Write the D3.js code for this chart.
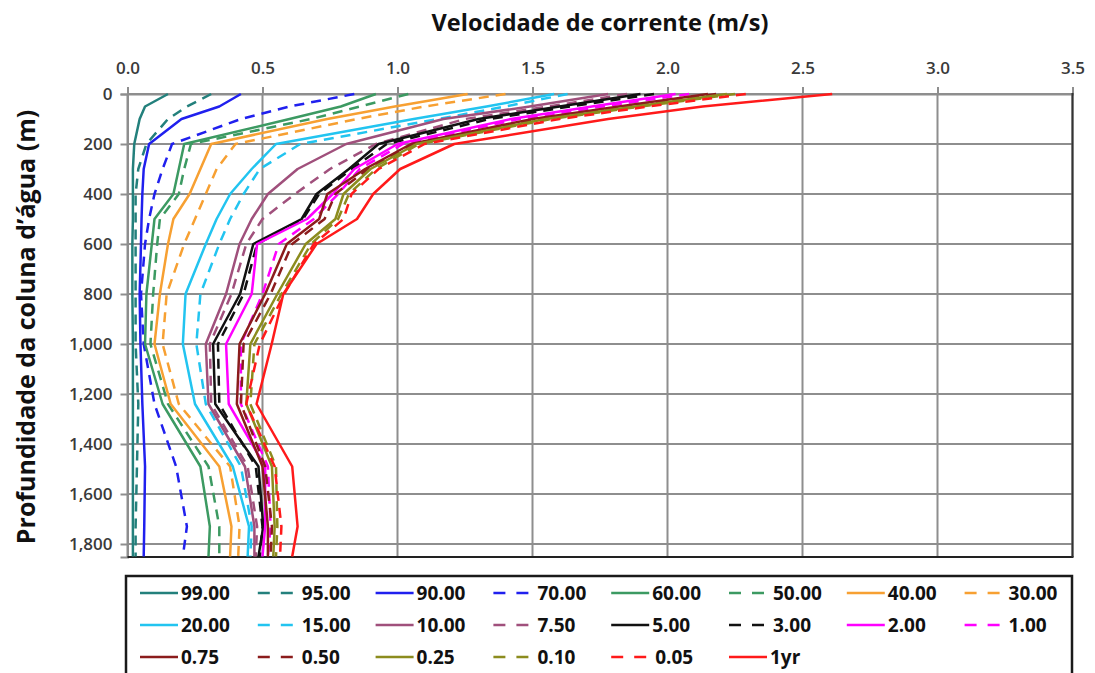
<!DOCTYPE html>
<html><head><meta charset="utf-8">
<script src="https://cdn.jsdelivr.net/npm/d3@7"></script>
<style>body{margin:0;background:#fff} svg{display:block}</style>
</head><body><svg id="c" width="1095" height="673"></svg>
<script>
// ---- data ----
const depths = [0, 50, 100, 200, 300, 400, 500, 600, 800, 1000, 1240, 1490, 1730, 1850];
const xTicks = [0, 0.5, 1.0, 1.5, 2.0, 2.5, 3.0, 3.5];
const yTicks = [0, 200, 400, 600, 800, 1000, 1200, 1400, 1600, 1800];
const seriesNames = ["99.00","95.00","90.00","70.00","60.00","50.00","40.00","30.00",
                     "20.00","15.00","10.00","7.50","5.00","3.00","2.00","1.00",
                     "0.75","0.50","0.25","0.10","0.05","1yr"];
const p99  = [0.15, 0.065, 0.045, 0.025, 0.02, 0.02, 0.02, 0.018, 0.018, 0.02, 0.02, 0.02, 0.02, 0.02];
const p95  = [0.31, 0.22, 0.15, 0.07, 0.04, 0.03, 0.03, 0.03, 0.03, 0.03, 0.04, 0.035, 0.03, 0.03];
const p90  = [0.42, 0.34, 0.20, 0.08, 0.06, 0.055, 0.052, 0.05, 0.045, 0.048, 0.055, 0.065, 0.062, 0.06];
const p70  = [0.84, 0.60, 0.42, 0.165, 0.13, 0.10, 0.08, 0.065, 0.05, 0.06, 0.10, 0.18, 0.22, 0.205];
const p60  = [0.92, 0.79, 0.60, 0.21, 0.19, 0.17, 0.10, 0.09, 0.07, 0.065, 0.13, 0.27, 0.305, 0.30];
const p50  = [1.04, 0.86, 0.68, 0.235, 0.21, 0.19, 0.12, 0.11, 0.095, 0.085, 0.15, 0.30, 0.34, 0.34];
const p40  = [1.26, 0.99, 0.74, 0.31, 0.27, 0.23, 0.17, 0.15, 0.12, 0.10, 0.16, 0.34, 0.385, 0.38];
const p30  = [1.40, 1.10, 0.85, 0.40, 0.33, 0.29, 0.25, 0.21, 0.145, 0.13, 0.19, 0.38, 0.415, 0.41];
const p20  = [1.58, 1.33, 1.06, 0.55, 0.46, 0.38, 0.33, 0.29, 0.215, 0.205, 0.25, 0.39, 0.45, 0.445];
const p15  = [1.63, 1.40, 1.15, 0.64, 0.49, 0.43, 0.38, 0.34, 0.27, 0.255, 0.29, 0.42, 0.46, 0.455];
const p10  = [1.78, 1.49, 1.17, 0.81, 0.63, 0.52, 0.46, 0.415, 0.365, 0.29, 0.30, 0.435, 0.47, 0.47];
const p7_5 = [1.85, 1.56, 1.25, 0.92, 0.75, 0.62, 0.50, 0.44, 0.385, 0.305, 0.31, 0.445, 0.48, 0.475];
const p5   = [1.90, 1.60, 1.30, 0.93, 0.82, 0.70, 0.645, 0.466, 0.417, 0.317, 0.325, 0.485, 0.503, 0.485];
const p3   = [1.95, 1.64, 1.34, 0.96, 0.83, 0.71, 0.65, 0.48, 0.43, 0.335, 0.34, 0.475, 0.50, 0.49];
const p2   = [2.03, 1.72, 1.42, 1.00, 0.84, 0.76, 0.665, 0.48, 0.46, 0.365, 0.375, 0.51, 0.51, 0.50];
const p1   = [2.08, 1.76, 1.45, 1.02, 0.86, 0.78, 0.69, 0.56, 0.50, 0.42, 0.42, 0.52, 0.53, 0.52];
const p0_75= [2.15, 1.82, 1.50, 1.05, 0.88, 0.74, 0.71, 0.59, 0.51, 0.415, 0.405, 0.50, 0.52, 0.52];
const p0_50= [2.18, 1.85, 1.52, 1.06, 0.89, 0.77, 0.73, 0.61, 0.53, 0.43, 0.42, 0.51, 0.535, 0.53];
const p0_25= [2.22, 1.88, 1.55, 1.07, 0.90, 0.80, 0.77, 0.66, 0.555, 0.455, 0.44, 0.535, 0.545, 0.54];
const p0_10= [2.25, 1.90, 1.57, 1.08, 0.92, 0.82, 0.78, 0.68, 0.57, 0.47, 0.455, 0.55, 0.555, 0.55];
const p0_05= [2.29, 1.93, 1.60, 1.10, 0.93, 0.83, 0.80, 0.69, 0.58, 0.49, 0.44, 0.545, 0.57, 0.565];
const p1yr = [2.61, 2.13, 1.78, 1.21, 1.01, 0.91, 0.85, 0.70, 0.577, 0.534, 0.478, 0.61, 0.63, 0.61];

// ---- styles ----
const seriesColors = ["#23807c","#23807c","#2020ee","#2020ee","#3c9a62","#3c9a62","#f7a032","#f7a032",
                      "#22c4f0","#22c4f0","#a0507c","#a0507c","#111111","#111111","#ff00ff","#ff00ff",
                      "#8b1c1c","#8b1c1c","#8c8c1e","#8c8c1e","#ff1a1a","#ff1a1a"];
const seriesDashed = [false,true,false,true,false,true,false,true,
                      false,true,false,true,false,true,false,true,
                      false,true,false,true,true,false];

const values = [p99,p95,p90,p70,p60,p50,p40,p30,p20,p15,p10,p7_5,p5,p3,p2,p1,p0_75,p0_50,p0_25,p0_10,p0_05,p1yr];
const series = seriesNames.map((name, i) => ({
  name, color: seriesColors[i], dashed: seriesDashed[i],
  points: depths.map((d, j) => ({depth: d, v: values[i][j]}))
}));

const svg = d3.select("#c");
const L = 127.5, R = 1072.5, T = 94, B = 557;
const x = d3.scaleLinear().domain([0, 3.5]).range([L, R]);
const y = d3.scaleLinear().domain([0, 1852]).range([T, B]);
const font = "'Open Sans', sans-serif";

// grid
const grid = svg.append("g");
grid.selectAll(".vg").data(xTicks).join("line")
  .attr("x1", d => x(d)).attr("x2", d => x(d)).attr("y1", T).attr("y2", B)
  .attr("stroke", "#8e8e8e").attr("stroke-width", 2);
grid.selectAll(".hg").data(yTicks).join("line")
  .attr("x1", L).attr("x2", R).attr("y1", d => y(d)).attr("y2", d => y(d))
  .attr("stroke", "#8e8e8e").attr("stroke-width", 2);

// axes
const xAxis = svg.append("g").attr("transform", `translate(0,${T})`)
  .call(d3.axisTop(x).tickValues(xTicks).tickFormat(d3.format(".1f")).tickSize(7).tickPadding(13));
const yAxis = svg.append("g").attr("transform", `translate(${L},0)`)
  .call(d3.axisLeft(y).tickValues(yTicks).tickFormat(d3.format(",")).tickSize(7).tickPadding(8));
[xAxis, yAxis].forEach(a => {
  a.select(".domain").attr("stroke", "#8e8e8e").attr("stroke-width", 2);
  a.selectAll(".tick line").attr("stroke", "#8e8e8e").attr("stroke-width", 2);
  a.selectAll(".tick text").attr("fill", "#3a3a3a").style("font-family", font)
    .style("font-size", "17px").style("font-weight", "600");
});

// right & bottom border
svg.append("line").attr("x1", L).attr("x2", R + 1).attr("y1", B).attr("y2", B).attr("stroke", "#222").attr("stroke-width", 2);
svg.append("line").attr("x1", R).attr("x2", R).attr("y1", T - 1).attr("y2", B).attr("stroke", "#333").attr("stroke-width", 2);

// series lines
const line = d3.line().x(d => x(d.v)).y(d => y(d.depth));
svg.append("clipPath").attr("id", "pc").append("rect")
  .attr("x", L).attr("y", T - 2).attr("width", R - L).attr("height", B - T + 2);
svg.append("g").attr("clip-path", "url(#pc)").selectAll("path").data(series).join("path")
  .attr("d", d => line(d.points))
  .attr("fill", "none").attr("stroke", d => d.color).attr("stroke-width", 2.5)
  .attr("stroke-linejoin", "round")
  .attr("stroke-dasharray", d => d.dashed ? "10,7" : null);

// titles
svg.append("text").attr("x", 600).attr("y", 31).attr("text-anchor", "middle")
  .style("font-family", font).style("font-size", "23.5px").style("font-weight", "bold")
  .attr("fill", "#111").text("Velocidade de corrente (m/s)");
svg.append("text").attr("transform", "translate(35,327) rotate(-90)").attr("text-anchor", "middle")
  .style("font-family", font).style("font-size", "25px").style("font-weight", "bold")
  .attr("fill", "#111").text("Profundidade da coluna d’água (m)");

// legend
svg.append("rect").attr("x", 126).attr("y", 576).attr("width", 946).attr("height", 120)
  .attr("fill", "none").attr("stroke", "#1a1a1a").attr("stroke-width", 2.5);
const lg = svg.append("g").selectAll("g").data(series).join("g")
  .attr("transform", (d, i) => `translate(${140 + (i % 8) * 117.8},${593 + Math.floor(i / 8) * 32})`);
lg.append("line").attr("x1", 0).attr("x2", d => d.dashed ? 35 : 38).attr("y1", 0).attr("y2", 0)
  .attr("stroke", d => d.color).attr("stroke-width", 2.5)
  .attr("stroke-dasharray", d => d.dashed ? "12,11" : null);
lg.append("text").attr("x", d => d.dashed ? 44 : 41).attr("y", 0).attr("dy", "0.35em")
  .style("font-family", font).style("font-size", "19px").style("font-weight", "bold")
  .attr("fill", "#111").text(d => d.name);
</script></body></html>
